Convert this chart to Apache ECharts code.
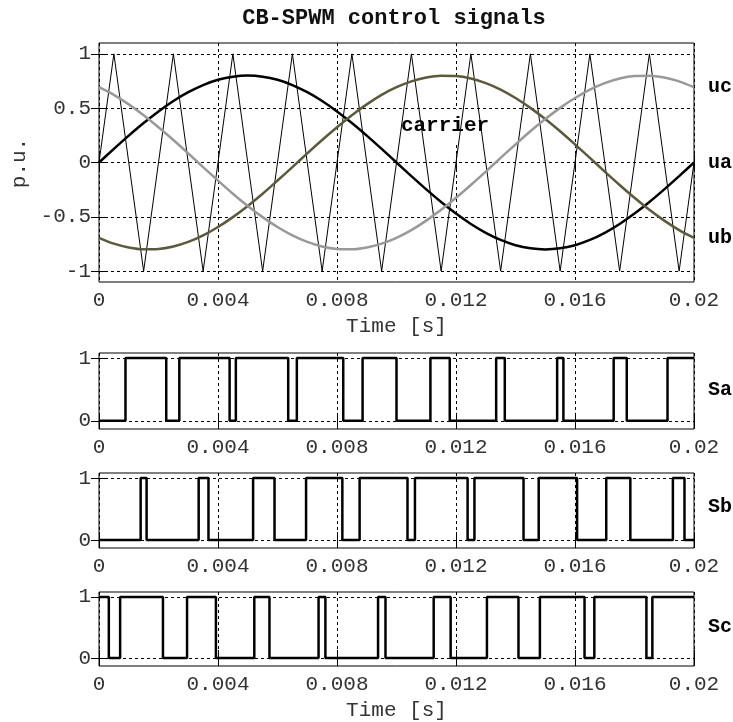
<!DOCTYPE html>
<html>
<head>
<meta charset="utf-8">
<script src="https://cdn.jsdelivr.net/npm/echarts@6/dist/echarts.min.js"></script>
<style>
  html, body { margin: 0; padding: 0; background: #fff; }
  #chart { width: 733px; height: 722px; }
</style>
</head>
<body>
<div id="chart"></div>
<script>
// times in ms, converted to seconds for the axes
const carrierT = [0, 0.5, 1.5, 2.5, 3.5, 4.5, 5.5, 6.5, 7.5, 8.5, 9.5, 10.5, 11.5, 12.5, 13.5, 14.5, 15.5, 16.5, 17.5, 18.5, 19.5, 20];
const carrierV = [0, 1, -1, 1, -1, 1, -1, 1, -1, 1, -1, 1, -1, 1, -1, 1, -1, 1, -1, 1, -1, 0];

const sineT = [0, 0.5, 1, 1.5, 2, 2.5, 3, 3.5, 4, 4.5, 5, 5.5, 6, 6.5, 7, 7.5, 8, 8.5, 9, 9.5, 10,
  10.5, 11, 11.5, 12, 12.5, 13, 13.5, 14, 14.5, 15, 15.5, 16, 16.5, 17, 17.5, 18, 18.5, 19, 19.5, 20];
const ua = [0, 0.125, 0.247, 0.363, 0.470, 0.566, 0.647, 0.713, 0.761, 0.790, 0.800, 0.790, 0.761, 0.713, 0.647, 0.566, 0.470, 0.363, 0.247, 0.125, 0,
  -0.125, -0.247, -0.363, -0.470, -0.566, -0.647, -0.713, -0.761, -0.790, -0.800, -0.790, -0.761, -0.713, -0.647, -0.566, -0.470, -0.363, -0.247, -0.125, 0];
const ub = [-0.693, -0.747, -0.782, -0.799, -0.796, -0.773, -0.731, -0.671, -0.594, -0.503, -0.400, -0.287, -0.166, -0.042, 0.084, 0.207, 0.325, 0.436, 0.535, 0.622, 0.693,
  0.747, 0.782, 0.799, 0.796, 0.773, 0.731, 0.671, 0.594, 0.503, 0.400, 0.287, 0.166, 0.042, -0.084, -0.207, -0.325, -0.436, -0.535, -0.622, -0.693];
const uc = [0.693, 0.622, 0.535, 0.436, 0.325, 0.207, 0.084, -0.042, -0.166, -0.287, -0.400, -0.503, -0.594, -0.671, -0.731, -0.773, -0.796, -0.799, -0.782, -0.747, -0.693,
  -0.622, -0.535, -0.436, -0.325, -0.207, -0.084, 0.042, 0.166, 0.287, 0.400, 0.503, 0.594, 0.671, 0.731, 0.773, 0.796, 0.799, 0.782, 0.747, 0.693];

// switching instants (ms), level toggles at each one
const saStart = 0;
const saEdges = [0.89, 2.26, 2.70, 4.39, 4.60, 6.36, 6.65, 8.21, 8.86, 10.00, 11.14, 11.79, 13.35, 13.64, 15.40, 15.61, 17.30, 17.74, 19.11];
const sbStart = 0;
const sbEdges = [1.40, 1.60, 3.35, 3.68, 5.18, 5.90, 6.96, 8.18, 8.76, 10.37, 10.62, 12.39, 12.62, 14.27, 14.78, 16.07, 17.05, 17.86, 19.29, 19.68];
const scStart = 1;
const scEdges = [0.33, 0.71, 2.15, 2.96, 3.93, 5.22, 5.73, 7.38, 7.61, 9.38, 9.63, 11.25, 11.82, 13.04, 14.10, 14.82, 16.32, 16.65, 18.40, 18.60];

const puTicks = [-1, -0.5, 0, 0.5, 1];
const swTicks = [0, 1];

const mono = '"Liberation Mono", "Courier New", monospace';

function pairs(ts, vs) {
  return ts.map((t, i) => [t / 1000, vs[i]]);
}
function steps(start, edges) {
  let lvl = start;
  const out = [[0, lvl]];
  edges.forEach(t => { lvl = 1 - lvl; out.push([t / 1000, lvl]); });
  out.push([0.02, lvl]);
  return out;
}

const grids = [
  { left: 99, top: 43, width: 595, height: 239 },
  { left: 99, top: 353, width: 595, height: 76 },
  { left: 99, top: 473, width: 595, height: 75 },
  { left: 99, top: 592, width: 595, height: 75 }
].map(g => Object.assign(g, { show: true, borderColor: '#000', borderWidth: 1, backgroundColor: '#fff' }));

const dash = { color: '#000', width: 1, type: [3, 3] };
const tick = { inside: true, length: 8, lineStyle: { color: '#000', width: 1 } };

const xAxis = [];
const yAxis = [];
grids.forEach((g, i) => {
  const main = i === 0;
  xAxis.push({
    gridIndex: i, type: 'value', min: 0, max: 0.02, interval: 0.004,
    axisLine: { show: false }, axisTick: tick,
    axisLabel: { fontFamily: mono, fontSize: 21, color: '#333', margin: 8 },
    splitLine: { show: true, lineStyle: dash },
    name: (i === 0 || i === 3) ? 'Time [s]' : '',
    nameLocation: 'middle', nameGap: 34,
    nameTextStyle: { fontFamily: mono, fontSize: 21, color: '#333' }
  });
  xAxis.push({
    gridIndex: i, type: 'value', min: 0, max: 0.02, interval: 0.004, position: 'top',
    axisLine: { show: false }, axisTick: tick, axisLabel: { show: false }, splitLine: { show: false }
  });
  const vals = main ? puTicks : swTicks;
  const ymin = main ? -1.1 : -0.13;
  const ymax = main ? 1.1 : 1.08;
  yAxis.push({
    gridIndex: i, type: 'value', min: ymin, max: ymax,
    axisLine: { show: false },
    axisTick: Object.assign({ customValues: vals }, tick),
    axisLabel: { customValues: vals, fontFamily: mono, fontSize: 21, color: '#333', margin: 8 },
    splitLine: { show: true, lineStyle: dash }
  });
  yAxis.push({
    gridIndex: i, type: 'value', min: ymin, max: ymax, position: 'right',
    axisLine: { show: false },
    axisTick: Object.assign({ customValues: vals }, tick),
    axisLabel: { show: false }, splitLine: { show: false }
  });
});

const endLbl = { show: true, formatter: '{a}', distance: 14, fontFamily: mono, fontSize: 20, fontWeight: 'bold', color: '#000' };

function sine(name, vals, color) {
  return {
    name, type: 'line', xAxisIndex: 0, yAxisIndex: 0, data: pairs(sineT, vals),
    smooth: 0.3, symbol: 'none', lineStyle: { color, width: 2.5 }, itemStyle: { color },
    endLabel: endLbl, z: 3
  };
}
function sw(name, idx, start, edges) {
  return {
    name, type: 'line', xAxisIndex: idx * 2, yAxisIndex: idx * 2, data: steps(start, edges),
    step: 'end', symbol: 'none', lineStyle: { color: '#000', width: 2.5 }, itemStyle: { color: '#000' }, z: 3
  };
}

const chart = echarts.init(document.getElementById('chart'));
chart.setOption({
  animation: false,
  backgroundColor: '#fff',
  grid: grids,
  xAxis, yAxis,
  graphic: [
    { type: 'text', x: 394, y: 18, style: { text: 'CB-SPWM control signals', font: 'bold 22px ' + mono, fill: '#111', align: 'center', verticalAlign: 'middle' } },
    { type: 'text', x: 19, y: 163, rotation: Math.PI / 2, style: { text: 'p.u.', font: '21px ' + mono, fill: '#333', align: 'center', verticalAlign: 'middle' } },
    { type: 'text', x: 445, y: 126, z: 1, style: { text: 'carrier', font: 'bold 21px ' + mono, fill: '#000', align: 'center', verticalAlign: 'middle', backgroundColor: '#fff', padding: [6, 8] } },
    { type: 'text', x: 708, y: 390, style: { text: 'Sa', font: 'bold 20px ' + mono, fill: '#000', align: 'left', verticalAlign: 'middle' } },
    { type: 'text', x: 708, y: 507, style: { text: 'Sb', font: 'bold 20px ' + mono, fill: '#000', align: 'left', verticalAlign: 'middle' } },
    { type: 'text', x: 708, y: 627, style: { text: 'Sc', font: 'bold 20px ' + mono, fill: '#000', align: 'left', verticalAlign: 'middle' } }
  ],
  series: [
    {
      name: 'carrier', type: 'line', xAxisIndex: 0, yAxisIndex: 0, data: pairs(carrierT, carrierV),
      symbol: 'none', lineStyle: { color: '#000', width: 1 }, z: 2
    },
    sine('ua', ua, '#000'),
    sine('ub', ub, '#5b5a3c'),
    sine('uc', uc, '#999'),
    sw('Sa', 1, saStart, saEdges),
    sw('Sb', 2, sbStart, sbEdges),
    sw('Sc', 3, scStart, scEdges)
  ]
});
window.addEventListener('resize', () => chart.resize());
</script>
</body>
</html>
